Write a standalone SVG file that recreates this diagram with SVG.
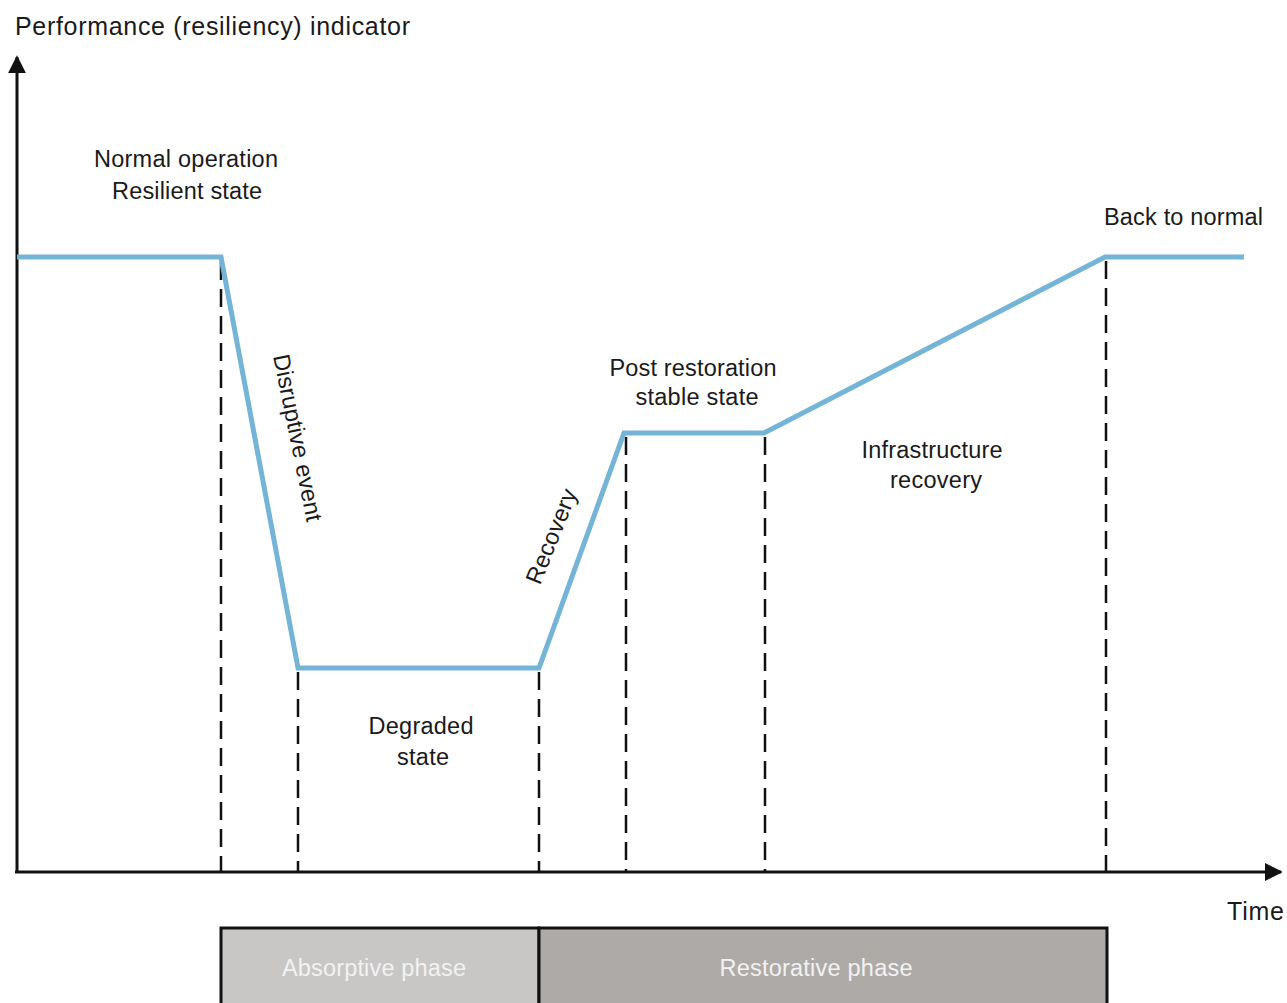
<svg xmlns="http://www.w3.org/2000/svg" width="1287" height="1003" viewBox="0 0 1287 1003">
  <style>
    text { font-family: "Liberation Sans", Arial, sans-serif; font-size: 23.5px; fill: #1a1a1a; }
    .title { font-size: 25px; }
    .phase { fill: #f2f2f2; }
    .axis { stroke: #111; stroke-width: 3; fill: none; }
    .guide { stroke: #111; stroke-width: 2.5; stroke-dasharray: 18 9; fill: none; }
    .curve { stroke: #74b4d6; stroke-width: 5; fill: none; stroke-linejoin: miter; }
    .box { stroke: #111; stroke-width: 3; }
  </style>
  <defs>
    <marker id="arrow" viewBox="0 0 10 10" refX="9" refY="5" markerWidth="6" markerHeight="6" markerUnits="strokeWidth" orient="auto">
      <path d="M0,0 L10,5 L0,10 z" fill="#111"/>
    </marker>
  </defs>

  <!-- axes -->
  <g id="axes">
    <line class="axis" x1="17" y1="872" x2="17" y2="57" marker-end="url(#arrow)"/>
    <line class="axis" x1="15" y1="872" x2="1281" y2="872" marker-end="url(#arrow)"/>
    <text class="title" x="15" y="35" textLength="395" lengthAdjust="spacing">Performance (resiliency) indicator</text>
    <text class="title" x="1227" y="920" textLength="57" lengthAdjust="spacing">Time</text>
  </g>

  <!-- phase boundaries -->
  <g id="connectors">
    <line class="guide" x1="221" y1="262" x2="221" y2="872"/>
    <line class="guide" x1="298" y1="672" x2="298" y2="872"/>
    <line class="guide" x1="539" y1="672" x2="539" y2="872"/>
    <line class="guide" x1="626" y1="437" x2="626" y2="872"/>
    <line class="guide" x1="765" y1="437" x2="765" y2="872"/>
    <line class="guide" x1="1106" y1="261" x2="1106" y2="872"/>
  </g>

  <!-- performance curve -->
  <g id="curve">
    <polyline class="curve" points="17,257 221,257 298,668 539,668 624,433 764,433 1105,257 1244,257"/>
  </g>

  <g id="normal-operation">
    <text x="186" y="167" text-anchor="middle" textLength="184" lengthAdjust="spacing">Normal operation</text>
    <text x="187" y="199" text-anchor="middle" textLength="150" lengthAdjust="spacing">Resilient state</text>
  </g>
  <g id="disruptive-event">
    <text transform="translate(296,438) rotate(78.5)" text-anchor="middle" dominant-baseline="middle" textLength="170" lengthAdjust="spacing">Disruptive event</text>
  </g>
  <g id="degraded-state">
    <text x="421" y="734" text-anchor="middle" textLength="105" lengthAdjust="spacing">Degraded</text>
    <text x="423" y="765" text-anchor="middle" textLength="52" lengthAdjust="spacing">state</text>
  </g>
  <g id="recovery">
    <text transform="translate(553,537) rotate(-68)" text-anchor="middle" dominant-baseline="middle" textLength="100" lengthAdjust="spacing">Recovery</text>
  </g>
  <g id="post-restoration">
    <text x="693" y="376" text-anchor="middle" textLength="167" lengthAdjust="spacing">Post restoration</text>
    <text x="697" y="405" text-anchor="middle" textLength="123" lengthAdjust="spacing">stable state</text>
  </g>
  <g id="infrastructure-recovery">
    <text x="932" y="458" text-anchor="middle" textLength="141" lengthAdjust="spacing">Infrastructure</text>
    <text x="936" y="488" text-anchor="middle" textLength="92" lengthAdjust="spacing">recovery</text>
  </g>
  <g id="back-to-normal">
    <text x="1104" y="225" textLength="159" lengthAdjust="spacing">Back to normal</text>
  </g>

  <!-- phase bands -->
  <g id="absorptive-phase">
    <rect class="box" x="221" y="928" width="318" height="90" fill="#c8c7c6"/>
    <text class="phase" x="374" y="976" text-anchor="middle" textLength="184" lengthAdjust="spacing">Absorptive phase</text>
  </g>
  <g id="restorative-phase">
    <rect class="box" x="539" y="928" width="568" height="90" fill="#aeaaa8"/>
    <text class="phase" x="816" y="976" text-anchor="middle" textLength="193" lengthAdjust="spacing">Restorative phase</text>
  </g>
</svg>
